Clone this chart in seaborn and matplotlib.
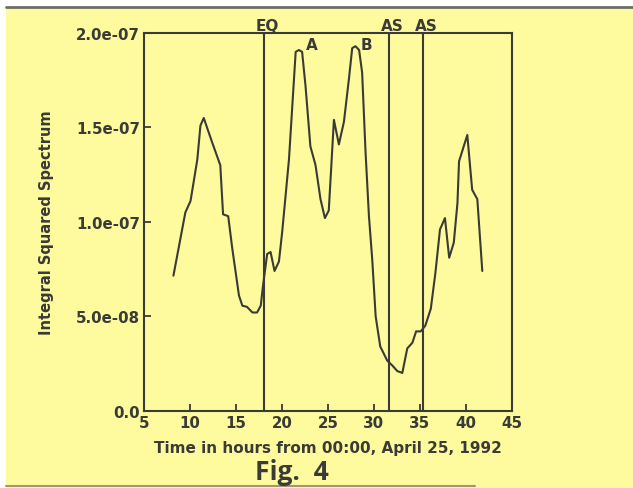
import matplotlib
matplotlib.use("Agg")
import matplotlib.pyplot as plt
from matplotlib.patches import Rectangle
from matplotlib.lines import Line2D
import seaborn as sns
import pandas as pd

hours = [8.2, 9.5, 10.06, 10.8, 11.14, 11.5, 12.42, 13.3, 13.6, 14.16, 14.6, 15.33, 15.7,
         16.2, 16.8, 17.3, 17.7, 17.94, 18.4, 18.77, 19.2, 19.68, 20.04, 20.77, 21.5, 21.85,
         22.2, 22.57, 23.1, 23.66, 24.2, 24.68, 25.1, 25.66, 26.2, 26.75, 27.3, 27.65, 28.0,
         28.4, 28.73, 29.1, 29.47, 29.83, 30.2, 30.7, 31.46, 32.0, 32.55, 33.1, 33.64, 34.2,
         34.6, 35.1, 35.6, 36.2, 36.7, 37.2, 37.74, 38.2, 38.7, 39.1, 39.27, 40.17, 40.7,
         41.26, 41.8]
spectrum_e7 = [0.715, 1.05, 1.11, 1.33, 1.51, 1.55, 1.42, 1.30, 1.04, 1.03, 0.86, 0.61, 0.556,
               0.55, 0.52, 0.52, 0.556, 0.66, 0.83, 0.84, 0.74, 0.79, 0.95, 1.33, 1.90, 1.91,
               1.90, 1.72, 1.40, 1.30, 1.12, 1.02, 1.06, 1.54, 1.41, 1.53, 1.76, 1.92, 1.93,
               1.91, 1.79, 1.37, 1.03, 0.80, 0.50, 0.34, 0.265, 0.24, 0.21, 0.20, 0.33, 0.36,
               0.42, 0.42, 0.45, 0.54, 0.73, 0.96, 1.02, 0.81, 0.89, 1.10, 1.32, 1.46, 1.17,
               1.12, 0.74]
event_times = [18.0, 31.6, 35.3]
event_labels = ["EQ", "AS", "AS"]
peak_labels = ["A", "B"]
peak_x = [23.2, 29.2]
peak_y = [1.937e-7, 1.937e-7]
x_ticks = [5, 10, 15, 20, 25, 30, 35, 40, 45]
y_ticks = [0.0, 5.0e-8, 1.0e-7, 1.5e-7, 2.0e-7]
y_ticklabels = ["0.0", "5.0e-08", "1.0e-07", "1.5e-07", "2.0e-07"]

sns.set_style("ticks")
plt.rcParams["font.family"] = ["DejaVu Sans"]

ink = "#3a3a36"
yellow = "#FEFB9F"

df = pd.DataFrame({"t": hours, "s": [v * 1e-7 for v in spectrum_e7]})

fig = plt.figure(figsize=(6.33, 4.89), dpi=100)
fig.patch.set_facecolor("white")
fig.add_artist(Rectangle((6 / 633, 0), 1 - 6 / 633, 1 - 9 / 489, transform=fig.transFigure,
                         facecolor=yellow, edgecolor="none", zorder=-10))
fig.add_artist(Line2D([6 / 633, 1], [1 - 8 / 489, 1 - 8 / 489], transform=fig.transFigure,
                      color="#6e6e66", lw=2.0))
fig.add_artist(Line2D([6 / 633, 0.75], [2 / 489, 2 / 489], transform=fig.transFigure,
                      color="#9a9a70", lw=1.5))

ax = fig.add_axes([144 / 633, 1 - 411.7 / 489, (511.7 - 144) / 633, (411.7 - 34) / 489])
ax.set_facecolor("none")

sns.lineplot(data=df, x="t", y="s", ax=ax, color=ink, lw=1.5, sort=False)

for t, lab in zip(event_times, event_labels):
    ax.axvline(t, color=ink, lw=1.5)
    ax.text(t + 0.4, 1.0, lab, transform=ax.get_xaxis_transform(), ha="center", va="bottom",
            fontsize=11, fontweight="bold", color=ink)

for lab, px, py in zip(peak_labels, peak_x, peak_y):
    ax.text(px, py, lab, ha="center", va="center", fontsize=11, fontweight="bold", color=ink)

ax.set_xlim(5, 45)
ax.set_ylim(0, 2.0e-7)
ax.set_xticks(x_ticks)
ax.set_yticks(y_ticks)
ax.set_yticklabels(y_ticklabels)
for s in ax.spines.values():
    s.set_visible(True)
    s.set_color(ink)
    s.set_linewidth(1.5)
ax.tick_params(axis="both", direction="in", length=5, width=1.3, color=ink,
               labelsize=10.8, labelcolor=ink, pad=3)
for lbl in ax.get_xticklabels() + ax.get_yticklabels():
    lbl.set_fontweight("bold")

ax.set_xlabel("Time in hours from 00:00, April 25, 1992", fontsize=11, fontweight="bold",
              color=ink, labelpad=7)
ax.set_ylabel("Integral Squared Spectrum", fontsize=10.5, fontweight="bold", color=ink,
              labelpad=16)

fig.text(292 / 633, 1 - 472 / 489, "Fig.  4", ha="center", va="center", fontsize=19,
         color=ink, family=["Open Sans", "DejaVu Sans"], fontweight="bold")

fig.savefig("out.png", dpi=100, facecolor=fig.get_facecolor())
